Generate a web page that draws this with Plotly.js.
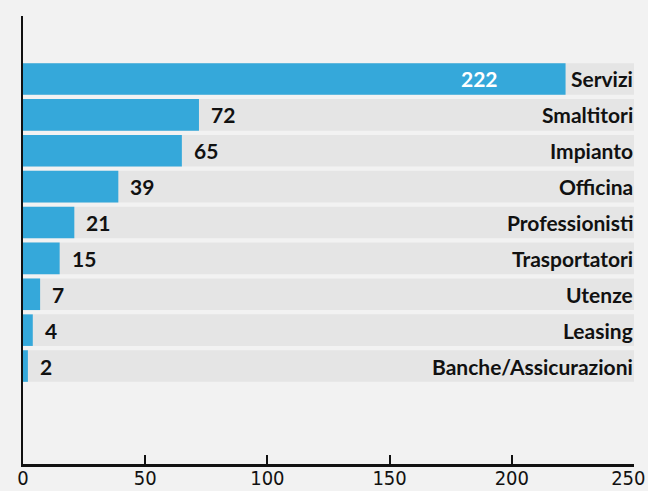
<!DOCTYPE html>
<html><head><meta charset="utf-8">
<script src="https://cdn.plot.ly/plotly-3.0.1.min.js"></script>
<style>html,body{margin:0;padding:0;background:#f2f2f2;}#chart{width:648px;height:491px;}</style>
</head><body><div id="chart"></div>
<script>
const categories = ["Servizi","Smaltitori","Impianto","Officina","Professionisti","Trasportatori","Utenze","Leasing","Banche/Assicurazioni"];
const values = [222,72,65,39,21,15,7,4,2];
const trackMax = 250;
const tickVals = [0,50,100,150,200,250];
const tickLabels = ["0","50","100","150","200","250"];

const cats = categories.slice().reverse();
const vals = values.slice().reverse();

const track = {type:'bar', orientation:'h', y:cats, x:cats.map(()=>trackMax), marker:{color:'#e5e5e5'}, width:0.88, hoverinfo:'skip', showlegend:false};
const bars = {type:'bar', orientation:'h', y:cats, x:vals, marker:{color:'#35a8da'}, width:0.88, showlegend:false};

const ann = [];
categories.forEach((c,i)=>{
  ann.push({x:trackMax, y:c, xref:'x', yref:'y', text:c, showarrow:false, xanchor:'right', xshift:1,
    font:{family:'Lato', size:21, weight:'bold', color:'#111'}});
  const inside = i===0;
  ann.push({x:values[i], y:c, xref:'x', yref:'y', text:String(values[i]), showarrow:false,
    xanchor: inside?'right':'left', xshift: inside?-66:10,
    font:{family:'Lato', size:21, weight:'bold', color: inside?'#ffffff':'#111'}});
});

// last tick label padded so it stays inside the page, like the reference
const tickText = tickLabels.map((t,i)=> i===tickLabels.length-1 ? t+'\u00a0\u00a0' : t);

const layout = {
  width:648, height:491,
  paper_bgcolor:'#f2f2f2', plot_bgcolor:'#f2f2f2',
  margin:{l:23, r:14, t:16, b:27},
  barmode:'overlay',
  bargap:0.12,
  xaxis:{range:[0,trackMax], tickvals:tickVals, ticktext:tickText, showgrid:false, zeroline:false,
    showline:true, linecolor:'#111', linewidth:2.5, ticks:'inside', ticklen:9, tickwidth:2, tickcolor:'#111',
    ticklabeloverflow:'allow', ticklabelstandoff:-6,
    tickfont:{family:'DejaVu Sans Condensed', size:20, color:'#111'}, fixedrange:true},
  yaxis:{type:'category', categoryorder:'array', categoryarray:cats, range:[-2.73, 9.755], showticklabels:false,
    showgrid:false, zeroline:false, showline:true, linecolor:'#111', linewidth:2.5, ticks:'', layer:'below traces'},
  annotations:ann,
  font:{family:'Lato'}
};
Plotly.newPlot('chart',[track,bars],layout,{displayModeBar:false, staticPlot:true});
</script></body></html>
